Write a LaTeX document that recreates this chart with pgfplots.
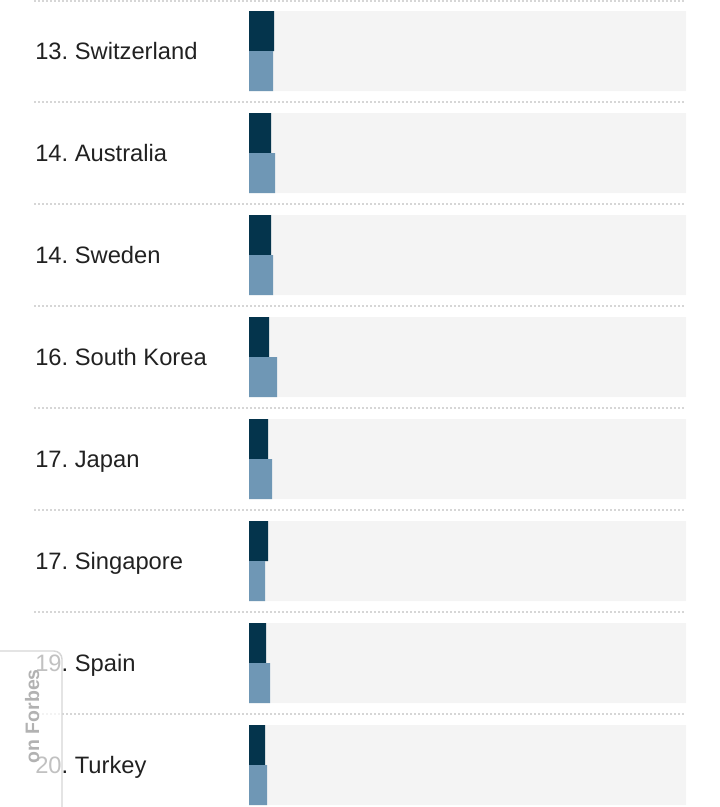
\documentclass[border=0pt]{standalone}
\usepackage{pgfplots}
\pgfplotsset{compat=1.18}
\usepackage{fontspec}
\setmainfont{Liberation Sans}
\frenchspacing
\definecolor{darkbar}{HTML}{04344C}
\definecolor{lightbar}{HTML}{6F97B5}
\definecolor{bggray}{HTML}{F4F4F4}
\definecolor{sepgray}{HTML}{D6D6D6}
\definecolor{txt}{HTML}{212121}
\tikzset{lbl/.style={anchor=base west, inner sep=0pt, font=\fontsize{17.8}{20}\selectfont, text=txt}}
\begin{document}
\begin{tikzpicture}
\begin{axis}[
  width=540pt, height=605.25pt, scale only axis,
  xmin=-249, xmax=471, ymin=0, ymax=807, y dir=reverse,
  axis lines=none, clip=false, enlargelimits=false,
]
\coordinate (bl) at (rel axis cs:0,0);
\coordinate (tr) at (rel axis cs:1,1);
% background bars
\addplot[xbar, bar shift=0, bar width=80, fill=bggray, draw=none] coordinates {
(437,51) (437,153) (437,255) (437,357) (437,459) (437,561) (437,663) (437,765)};
% dark bars
\addplot[xbar, bar shift=0, bar width=40, fill=darkbar, draw=none] coordinates {
(25,31) (22,133) (22,235) (20,337) (19,439) (19,541) (17,643) (16,745)};
% light bars
\addplot[xbar, bar shift=0, bar width=40, fill=lightbar, draw=none] coordinates {
(24,71) (26,173) (24,275) (28,377) (23,479) (16,581) (21,683) (18,785)};
% separators
\pgfplotsinvokeforeach{0.5,102,204,306,408,510,612,714}{
  \addplot[sepgray, line width=1.5pt, dash pattern=on 1.5pt off 1.5pt, forget plot] coordinates {(-215,#1) (437,#1)};
}
% labels
\node[lbl] at (axis cs:-214,59.5) {13. Switzerland};
\node[lbl] at (axis cs:-214,161.5) {14. Australia};
\node[lbl] at (axis cs:-214,263.5) {14. Sweden};
\node[lbl] at (axis cs:-214,365.5) {16. South Korea};
\node[lbl] at (axis cs:-214,467.5) {17. Japan};
\node[lbl] at (axis cs:-214,569.5) {17. Singapore};
\node[lbl] at (axis cs:-214,671.5) {19. Spain};
\node[lbl] at (axis cs:-214,773.5) {20. Turkey};
% overlay box
\filldraw[fill=white, fill opacity=0.72, draw=sepgray, line width=1.1pt, rounded corners=6pt] (axis cs:-255,651) -- (axis cs:-187,651) -- (axis cs:-187,815) -- (axis cs:-255,815);
\node[rotate=90, anchor=base east, inner sep=0pt, text=black!30, font=\fontsize{14.6}{17}\selectfont\bfseries] at (axis cs:-210,669) {on Forbes};
\end{axis}
\pgfresetboundingbox
\useasboundingbox (bl) rectangle (tr);
\end{tikzpicture}
\end{document}
